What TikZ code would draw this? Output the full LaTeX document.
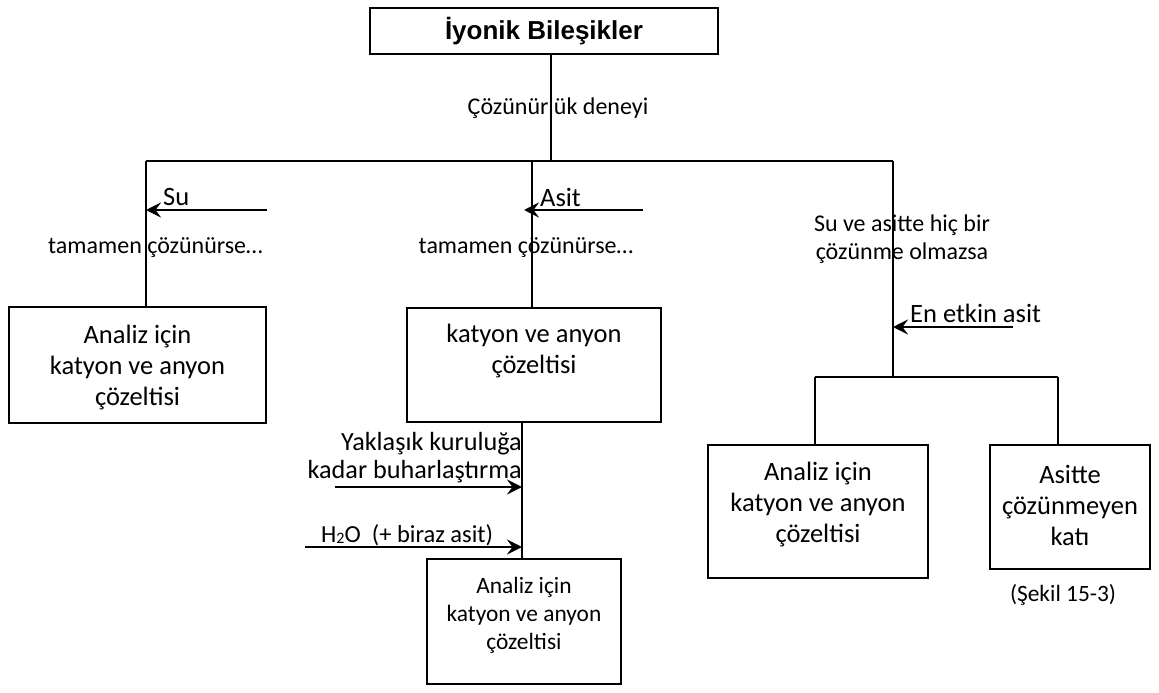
\documentclass[tikz,border=0pt]{standalone}
\usepackage{fontspec}
\setmainfont{Carlito}
\newfontfamily\titlefont{Liberation Sans}
\usetikzlibrary{arrows.meta}
\begin{document}
\begin{tikzpicture}[x=1pt,y=-1pt,
  box/.style={draw, line width=1.6pt, inner sep=0pt},
  conn/.style={line width=1.6pt},
  flowarrow/.style={line width=2.6pt, -{Stealth[length=15pt,width=15pt,inset=5.5pt]}},
  fbig/.style={inner sep=0pt, font=\fontsize{26.5}{31}\selectfont},
  flab/.style={inner sep=0pt, font=\fontsize{24}{28}\selectfont},
  fsmall/.style={inner sep=0pt, font=\fontsize{23.4}{28}\selectfont}
]
\useasboundingbox (0,0) rectangle (1159,693);
\fill[white] (0,0) rectangle (1159,693);

% title
\node[box, minimum width=348pt, minimum height=46pt,
      font=\titlefont\bfseries\fontsize{26}{30}\selectfont] (title) at (544,31) {İyonik Bileşikler};

% junctions
\coordinate (jtop) at (551,161);
\coordinate (jL) at (146,161);
\coordinate (jM) at (532,161);
\coordinate (jR) at (893,161);
\coordinate (jRR) at (893,377);
\coordinate (jS1) at (815,377);
\coordinate (jS2) at (1058,377);

% boxes
\node[box, minimum width=257pt, minimum height=116pt] (left) at (137.5,365) {};
\node[box, minimum width=254pt, minimum height=114pt] (mid) at (534,365) {};
\node[box, minimum width=194pt, minimum height=125pt] (bot) at (524,621.5) {};
\node[box, minimum width=220pt, minimum height=133pt] (sub1) at (818,511.5) {};
\node[box, minimum width=160pt, minimum height=124pt] (sub2) at (1070,507) {};

% box texts
\node[fbig, align=center] (leftT) at (137.5,368) {Analiz için\\katyon ve anyon\\çözeltisi};
\node[fbig, align=center] (midT) at (534,351) {katyon ve anyon\\çözeltisi};
\node[fsmall, align=center] (botT) at (524,615) {Analiz için\\katyon ve anyon\\çözeltisi};
\node[fbig, align=center] (sub1T) at (818,505) {Analiz için\\katyon ve anyon\\çözeltisi};
\node[fbig, align=center] (sub2T) at (1070,505) {Asitte\\çözünmeyen\\katı};
\node[fsmall] (fig) at (1063,595) {(Şekil 15-3)};

% connectors
\draw[conn] (jtop |- title.south) -- (jtop);
\draw[conn] (jL) -- (jR);
\draw[conn] (jL) -- (jL |- left.north);
\draw[conn] (jM) -- (jM |- mid.north);
\draw[conn] (jR) -- (jRR);
\draw[conn] (jS1) -- (jS2);
\draw[conn] (jS1) -- (jS1 |- sub1.north);
\draw[conn] (jS2) -- (jS2 |- sub2.north);
\coordinate (jB) at (522,422);
\draw[conn] (jB |- mid.south) -- (jB |- bot.north);

% labels
\node[flab] (cozT) at (558,108) {Çözünürlük deneyi};
\node[flab] (tam1) at (155.5,248) {tamamen çözünürse…};
\node[flab] (tam2) at (526,248) {tamamen çözünürse…};
\node[flab, align=center] (suve) at (902,239) {Su ve asitte hiç bir\\çözünme olmazsa};

% arrows
\coordinate (suS) at (267,210);
\coordinate (suE) at (146,210);
\draw[flowarrow] (suS) -- (suE);
\node[fbig, anchor=west] (suT) at (163,197) {Su};

\coordinate (asS) at (643,210);
\coordinate (asE) at (524,210);
\draw[flowarrow] (asS) -- (asE);
\node[fbig, anchor=west] (asT) at (540,197) {Asit};

\coordinate (enS) at (1013,327);
\coordinate (enE) at (893,327);
\draw[flowarrow] (enS) -- (enE);
\node[fbig, anchor=west] (enT) at (910,313) {En etkin asit};

\coordinate (buS) at (335,487);
\coordinate (buE) at (522,487);
\draw[flowarrow] (buS) -- (buE);
\node[inner sep=0pt, font=\fontsize{26.2}{28}\selectfont, align=right, anchor=east] (buT) at (522,458) {Yaklaşık kuruluğa\\kadar buharlaştırma};

\coordinate (hS) at (305,547);
\coordinate (hE) at (522,547);
\draw[flowarrow] (hS) -- (hE);
\node[inner sep=0pt, font=\fontsize{24.5}{28}\selectfont, anchor=base west] (hT) at (321,542) {H\raisebox{-1pt}{\fontsize{16}{16}\selectfont 2}O\ \ (+ biraz asit)};
\end{tikzpicture}
\end{document}
